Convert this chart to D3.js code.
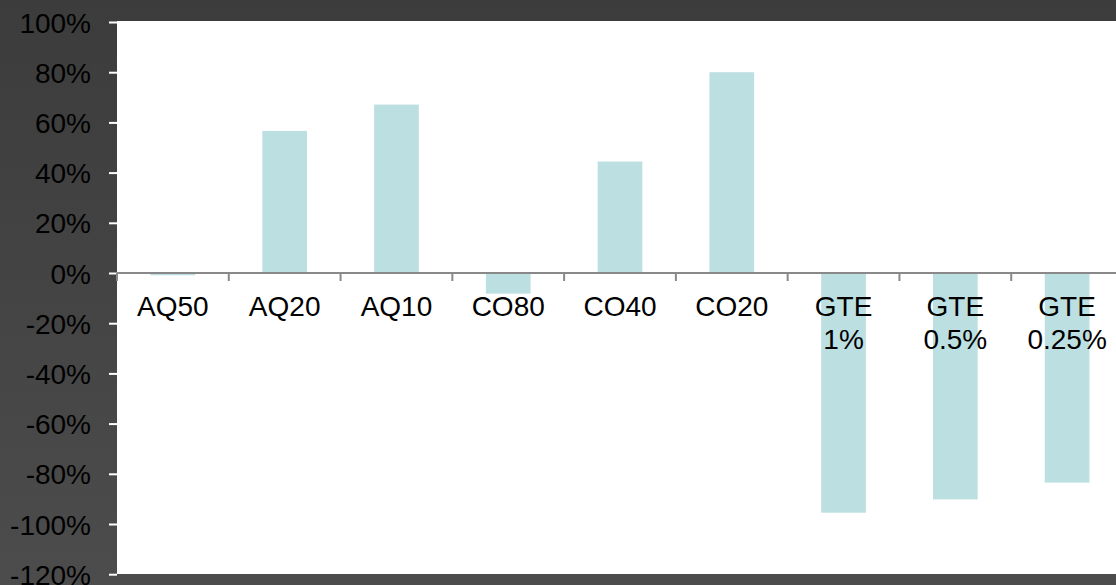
<!DOCTYPE html>
<html>
<head>
<meta charset="utf-8">
<script src="https://cdn.jsdelivr.net/npm/d3@7"></script>
<style>
  html, body { margin: 0; padding: 0; background: #444; }
  svg { display: block; }
  text { font-family: "Liberation Sans", Arial, sans-serif; }
</style>
</head>
<body>
<svg id="chart" width="1116" height="585"></svg>
<script>
// Relative change by configuration (fraction of baseline)
const categories = ["AQ50", "AQ20", "AQ10", "CO80", "CO40", "CO20", "GTE 1%", "GTE 0.5%", "GTE 0.25%"];
const values = [-0.009, 0.566, 0.671, -0.082, 0.444, 0.800, -0.955, -0.902, -0.835];
const yTicks = [1.0, 0.8, 0.6, 0.4, 0.2, 0, -0.2, -0.4, -0.6, -0.8, -1.0, -1.2];

const W = 1116, H = 585;
const plot = { left: 117, top: 21, bottom: 574, right: 1123 };

const svg = d3.select("#chart");

// Dark backdrop with a faint vertical gradient
const defs = svg.append("defs");
const grad = defs.append("linearGradient")
  .attr("id", "bg").attr("x1", 0).attr("y1", 0).attr("x2", 0).attr("y2", 1);
grad.append("stop").attr("offset", "0%").attr("stop-color", "#3b3c3b");
grad.append("stop").attr("offset", "100%").attr("stop-color", "#4c4c4c");
svg.append("rect").attr("width", W).attr("height", H).attr("fill", "url(#bg)");

// White plotting area
svg.append("rect")
  .attr("x", plot.left).attr("y", plot.top)
  .attr("width", W - plot.left).attr("height", plot.bottom - plot.top)
  .attr("fill", "#ffffff");

const x = d3.scaleBand()
  .domain(categories)
  .range([plot.left, plot.right])
  .paddingInner(0.6)
  .paddingOuter(0.3);

const xCat = d3.scaleBand()
  .domain(categories)
  .range([plot.left, plot.right])
  .padding(0);

const y = d3.scaleLinear()
  .domain([-1.2, 1.0])
  .range([574.2, 22]);

// Bars
svg.append("g")
  .selectAll("rect")
  .data(categories.map((c, i) => ({ c, v: values[i] })))
  .join("rect")
  .attr("x", d => x(d.c))
  .attr("width", x.bandwidth())
  .attr("y", d => y(Math.max(0, d.v)))
  .attr("height", d => Math.abs(y(d.v) - y(0)))
  .attr("fill", "#bcdfe2");

// Y axis: white ticks to the left, labels on the dark backdrop
const yAxis = d3.axisLeft(y)
  .tickValues(yTicks)
  .tickSize(8)
  .tickPadding(18)
  .tickFormat(d3.format(".0%"));

const gy = svg.append("g")
  .attr("transform", `translate(${plot.left},0)`)
  .call(yAxis);
gy.select(".domain").remove();
gy.selectAll(".tick line").attr("stroke", "#ffffff").attr("stroke-width", 2);
gy.selectAll(".tick text")
  .attr("fill", "#000000")
  .attr("font-size", 28)
  .attr("dy", "0.36em")
  .text(d => d3.format(".0%")(d).replace("−", "-"));

// Category axis along zero
const gx = svg.append("g").attr("transform", `translate(0,${y(0)})`);
gx.append("line")
  .attr("x1", plot.left).attr("x2", W)
  .attr("stroke", "#898989").attr("stroke-width", 2);

const boundaries = categories.map(c => xCat(c)).concat([plot.right]);
gx.selectAll("line.tk")
  .data(boundaries)
  .join("line")
  .attr("class", "tk")
  .attr("x1", d => d).attr("x2", d => d)
  .attr("y1", 0).attr("y2", 8)
  .attr("stroke", "#898989").attr("stroke-width", 2);

const labels = gx.selectAll("text.cat")
  .data(categories)
  .join("text")
  .attr("class", "cat")
  .attr("text-anchor", "middle")
  .attr("font-size", 28)
  .attr("fill", "#000000");

labels.each(function (c) {
  const parts = c.split(" ");
  const t = d3.select(this);
  parts.forEach((p, i) => {
    t.append("tspan")
      .attr("x", xCat(c) + xCat.bandwidth() / 2)
      .attr("y", 43 + i * 33)
      .text(p);
  });
});
</script>
</body>
</html>
